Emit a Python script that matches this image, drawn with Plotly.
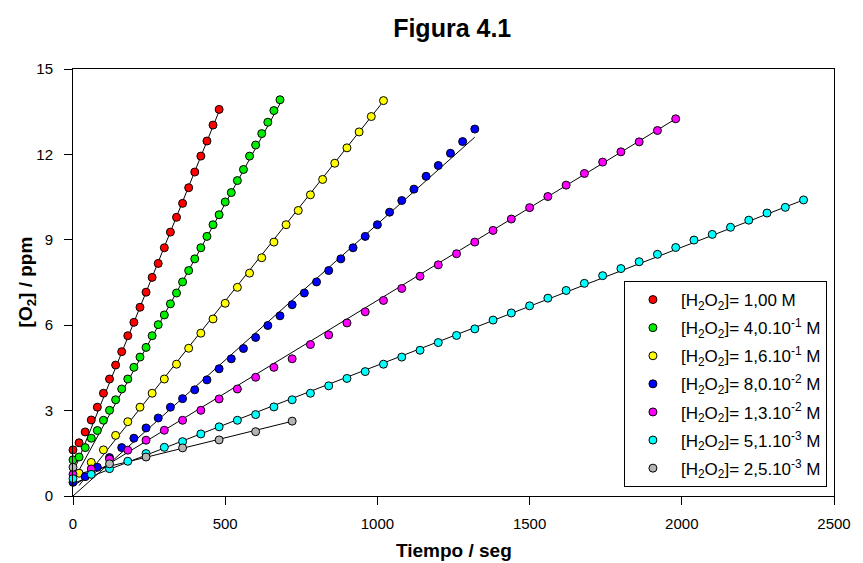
import plotly.graph_objects as go

# Oxygen evolved vs time for several H2O2 concentrations
t_100 = [0, 20, 40, 60, 80, 100, 120, 140, 160, 180, 200, 220, 240, 260, 280,
         300, 320, 340, 360, 380, 400, 420, 440, 460, 480]
o2_100 = [1.62, 1.87, 2.25, 2.67, 3.12, 3.61, 4.11, 4.60, 5.07, 5.63, 6.10, 6.63,
          7.16, 7.68, 8.17, 8.72, 9.27, 9.79, 10.28, 10.83, 11.38, 11.94, 12.47,
          13.03, 13.58]

t_40 = [0, 20, 40, 60, 80, 100, 120, 140, 160, 180, 200, 220, 240, 260, 280, 300,
        320, 340, 360, 380, 400, 420, 440, 460, 480, 500, 520, 540, 560, 580, 600,
        620, 640, 660, 680]
o2_40 = [1.27, 1.37, 1.70, 2.03, 2.30, 2.66, 3.01, 3.38, 3.76, 4.11, 4.52, 4.88,
         5.22, 5.63, 6.02, 6.36, 6.75, 7.13, 7.52, 7.92, 8.33, 8.72, 9.12, 9.53,
         9.88, 10.33, 10.66, 11.08, 11.47, 11.94, 12.33, 12.73, 13.13, 13.54, 13.92]

t_16 = [20, 60, 100, 140, 180, 220, 260, 300, 340, 380, 420, 460, 500, 540, 580,
        620, 660, 700, 740, 780, 820, 860, 900, 940, 980, 1020]
o2_16 = [0.80, 1.18, 1.62, 2.13, 2.61, 3.12, 3.61, 4.11, 4.63, 5.19, 5.72, 6.22,
         6.77, 7.33, 7.83, 8.37, 8.92, 9.53, 10.03, 10.58, 11.12, 11.69, 12.23,
         12.79, 13.33, 13.89]

t_8 = [0, 40, 80, 120, 160, 200, 240, 280, 320, 360, 400, 440, 480, 520, 560, 600,
       640, 680, 720, 760, 800, 840, 880, 920, 960, 1000, 1040, 1080, 1120, 1160,
       1200, 1240, 1280, 1320]
o2_8 = [0.48, 0.68, 1.01, 1.35, 1.70, 2.03, 2.39, 2.74, 3.12, 3.42, 3.73, 4.08,
        4.47, 4.82, 5.18, 5.57, 5.99, 6.33, 6.72, 7.13, 7.52, 7.92, 8.33, 8.72,
        9.12, 9.53, 9.97, 10.38, 10.78, 11.23, 11.61, 12.04, 12.45, 12.89]

t_13 = [0, 60, 120, 180, 240, 300, 360, 420, 480, 540, 600, 660, 720, 780, 840,
        900, 960, 1020, 1080, 1140, 1200, 1260, 1320, 1380, 1440, 1500, 1560, 1620,
        1680, 1740, 1800, 1860, 1920, 1980]
o2_13 = [0.76, 0.95, 1.30, 1.61, 1.96, 2.31, 2.66, 3.01, 3.41, 3.76, 4.17, 4.52,
         4.82, 5.32, 5.66, 6.08, 6.47, 6.87, 7.29, 7.72, 8.12, 8.51, 8.92, 9.33,
         9.73, 10.13, 10.52, 10.92, 11.33, 11.73, 12.09, 12.44, 12.84, 13.25]

t_51 = [0, 60, 120, 180, 240, 300, 360, 420, 480, 540, 600, 660, 720, 780, 840,
        900, 960, 1020, 1080, 1140, 1200, 1260, 1320, 1380, 1440, 1500, 1560, 1620,
        1680, 1740, 1800, 1860, 1920, 1980, 2040, 2100, 2160, 2220, 2280, 2340, 2400]
o2_51 = [0.61, 0.76, 0.96, 1.22, 1.49, 1.71, 1.91, 2.18, 2.43, 2.66, 2.86, 3.13,
         3.38, 3.61, 3.87, 4.13, 4.37, 4.63, 4.88, 5.12, 5.39, 5.64, 5.87, 6.18,
         6.43, 6.68, 6.95, 7.22, 7.47, 7.74, 7.99, 8.23, 8.49, 8.73, 8.99, 9.19,
         9.44, 9.69, 9.94, 10.14, 10.40]

t_25 = [0, 120, 240, 360, 480, 600, 720]
o2_25 = [1.01, 1.13, 1.37, 1.69, 1.97, 2.26, 2.63]

labels = [
    "[H<sub>2</sub>O<sub>2</sub>]= 1,00 M",
    "[H<sub>2</sub>O<sub>2</sub>]= 4,0.10<sup>-1</sup> M",
    "[H<sub>2</sub>O<sub>2</sub>]= 1,6.10<sup>-1</sup> M",
    "[H<sub>2</sub>O<sub>2</sub>]= 8,0.10<sup>-2</sup> M",
    "[H<sub>2</sub>O<sub>2</sub>]= 1,3.10<sup>-2</sup> M",
    "[H<sub>2</sub>O<sub>2</sub>]= 5,1.10<sup>-3</sup> M",
    "[H<sub>2</sub>O<sub>2</sub>]= 2,5.10<sup>-3</sup> M",
]
colors = ["#ff0000", "#00ee00", "#ffff00", "#0000ff", "#ff00ff", "#00ffff", "#b4b4b4"]
times = [t_100, t_40, t_16, t_8, t_13, t_51, t_25]
values = [o2_100, o2_40, o2_16, o2_8, o2_13, o2_51, o2_25]

# Linear fits (slope in ppm/s, intercept in ppm)
fit_slope = [0.0265, 0.0195, 0.0135, 0.00955, 0.00651, 0.00415, 0.00263]
fit_intercept = [0.80, 0.52, 0.10, 0.0, 0.36, 0.44, 0.73]

FONT = "Liberation Sans, Arial, sans-serif"

fig = go.Figure()

for t, m, b in zip(times, fit_slope, fit_intercept):
    x_line = [t[0], t[-1]]
    fig.add_trace(go.Scatter(
        x=x_line, y=[b + m * x for x in x_line], mode="lines",
        line=dict(color="black", width=1), showlegend=False, hoverinfo="skip",
    ))

for i, (t, y, c, lab) in enumerate(zip(times, values, colors, labels)):
    fig.add_trace(go.Scatter(
        x=t, y=y, mode="markers", name=lab, legendgroup=f"g{i}",
        marker=dict(size=8, color=c, line=dict(color="black", width=1)),
        cliponaxis=False,
    ))

axis_common = dict(
    showline=True, linecolor="black", linewidth=1, mirror=True,
    ticks="outside", ticklen=8, tickcolor="black", tickwidth=1,
    showgrid=False, zeroline=False,
    tickfont=dict(family=FONT, size=15, color="black"),
)

fig.update_layout(
    width=863, height=563,
    margin=dict(l=73, r=22, t=69, b=67),
    paper_bgcolor="white", plot_bgcolor="white",
    font=dict(family=FONT, color="black"),
    title=dict(text="<b>Figura 4.1</b>", x=0.524, xref="container", xanchor="center",
               y=1 - 28 / 563, yref="container", yanchor="middle",
               font=dict(family=FONT, size=25, color="black")),
    xaxis=dict(range=[0, 2500], tickvals=[0, 500, 1000, 1500, 2000, 2500],
               ticklabelstandoff=6, **axis_common),
    yaxis=dict(range=[0, 15], tickvals=[0, 3, 6, 9, 12, 15],
               ticklabelstandoff=8, **axis_common),
    showlegend=True,
    legend=dict(
        x=(629 - 73) / 768, y=(496 - 281) / 427, xanchor="left", yanchor="top",
        bgcolor="white", bordercolor="black", borderwidth=1,
        font=dict(family=FONT, size=17, color="black"),
        itemwidth=46, tracegroupgap=3, traceorder="grouped",
    ),
    annotations=[
        dict(text="<b>Tiempo / seg</b>", xref="paper", yref="paper",
             x=0.5006, y=(496 - 550) / 427, xanchor="center", yanchor="middle",
             showarrow=False, font=dict(family=FONT, size=19, color="black")),
        dict(text="<b>[O<sub>2</sub>] / ppm</b>", xref="paper", yref="paper",
             x=(27 - 73) / 768, y=(496 - 282) / 427, xanchor="center", yanchor="middle",
             textangle=-90, showarrow=False,
             font=dict(family=FONT, size=19, color="black")),
    ],
)

fig.write_html("out.html")
